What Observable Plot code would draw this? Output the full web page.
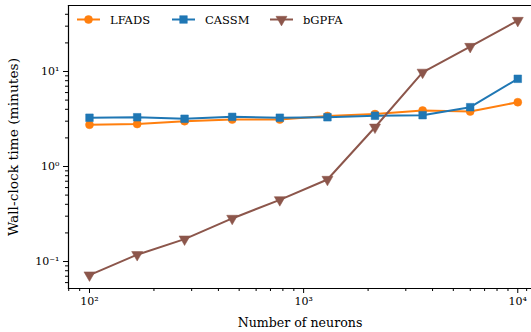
<!DOCTYPE html>
<html><head><meta charset="utf-8">
<script src="https://cdn.jsdelivr.net/npm/d3@7"></script>
<script src="https://cdn.jsdelivr.net/npm/@observablehq/plot@0.6"></script>
<style>body{margin:0;background:#fff} svg{display:block}</style>
</head><body><div id="c"></div>
<script>
const neurons = [100, 167, 278, 464, 774, 1292, 2154, 3594, 5995, 10000];
const lfads = [2.75, 2.80, 3.00, 3.12, 3.12, 3.40, 3.56, 3.88, 3.79, 4.75];
const cassm = [3.26, 3.30, 3.18, 3.33, 3.26, 3.30, 3.42, 3.47, 4.21, 8.38];
const bgpfa = [0.072, 0.118, 0.172, 0.284, 0.446, 0.73, 2.59, 9.8, 18.3, 34.4];
const seriesNames = ["LFADS", "CASSM", "bGPFA"];
const seriesValues = [lfads, cassm, bgpfa];
const colors = ["#ff7f0e", "#1f77b4", "#8c564b"];
const symbols = ["circle", "square", "triangle"];
const xMajor = [100, 1000, 10000];
const xMajorLabels = ["10²", "10³", "10⁴"];
const xMinor = [80, 90, 200, 300, 400, 500, 600, 700, 800, 900, 2000, 3000, 4000, 5000, 6000, 7000, 8000, 9000, 11000];
const yMajor = [0.1, 1, 10];
const yMajorLabels = ["10⁻¹", "10⁰", "10¹"];
const yMinor = [0.06, 0.07, 0.08, 0.09, 0.2, 0.3, 0.4, 0.5, 0.6, 0.7, 0.8, 0.9, 2, 3, 4, 5, 6, 7, 8, 9, 20, 30, 40];

const data = seriesNames.flatMap((s, i) => neurons.map((n, j) => ({series: s, n, t: seriesValues[i][j]})));
const FONT = "DejaVu Serif";
const radii = [4, 4.3, 4.1];

const marks = [];
seriesNames.forEach((s, i) => {
  const d = data.filter(r => r.series === s);
  marks.push(Plot.line(d, {x: "n", y: "t", stroke: colors[i], strokeWidth: 2}));
  marks.push(Plot.dot(d, {x: "n", y: "t", fill: colors[i], stroke: colors[i], strokeWidth: 0.5,
    symbol: symbols[i], r: radii[i], rotate: i === 2 ? 180 : 0}));
});

const plot = Plot.plot({
  width: 531, height: 332,
  marginLeft: 68, marginTop: 5, marginRight: 0, marginBottom: 44,
  style: {fontFamily: FONT, fontSize: "11px", color: "#000", background: "#fff"},
  x: {type: "log", domain: [79.8, 11590]},
  y: {type: "log", domain: [0.052, 49.5]},
  marks: [
    Plot.axisX(xMinor, {tickSize: 3, tickFormat: () => "", label: null}),
    Plot.axisX(xMajor, {tickSize: 5, tickPadding: 4, tickFormat: d => xMajorLabels[xMajor.indexOf(d)],
      label: "Number of neurons", labelAnchor: "center", labelArrow: "none", labelOffset: 38, fontSize: 11}),
    Plot.axisY(yMinor, {tickSize: 3, tickFormat: () => "", label: null}),
    Plot.axisY(yMajor, {tickSize: 5, tickPadding: 4, tickFormat: d => yMajorLabels[yMajor.indexOf(d)],
      label: "Wall-clock time (minutes)", labelAnchor: "center", labelArrow: "none", labelOffset: 60, fontSize: 11}),
    ...marks,
    Plot.frame({anchor: "top", stroke: "#000", strokeWidth: 1.2}),
    Plot.frame({anchor: "left", stroke: "#000", strokeWidth: 1.2}),
    Plot.frame({anchor: "bottom", stroke: "#000", strokeWidth: 1.2})
  ]
});
document.getElementById("c").appendChild(plot);

d3.select(plot).selectAll("g[aria-label='x-axis label'] text").attr("font-size", 12.6);
d3.select(plot).selectAll("g[aria-label='y-axis label'] text").attr("font-size", 13.8);

// legend
const svg = d3.select(plot);
const leg = svg.append("g").attr("font-family", FONT).attr("font-size", 11.5).attr("text-anchor", "start");
const legX = [77, 172, 270];
const legY = 19.5;
seriesNames.forEach((s, i) => {
  const x0 = legX[i];
  leg.append("line").attr("x1", x0).attr("x2", x0 + 23).attr("y1", legY).attr("y2", legY)
    .attr("stroke", colors[i]).attr("stroke-width", 2);
  const type = [d3.symbolCircle, d3.symbolSquare, d3.symbolTriangle][i];
  leg.append("path").attr("d", d3.symbol(type, Math.PI * radii[i] * radii[i])())
    .attr("transform", `translate(${x0 + 11.5},${legY}) rotate(${i === 2 ? 180 : 0})`)
    .attr("fill", colors[i]).attr("stroke", colors[i]).attr("stroke-width", 0.5);
  leg.append("text").attr("x", x0 + 33).attr("y", legY).attr("dy", "0.35em")
    .attr("text-anchor", "start").text(s);
});
</script></body></html>
